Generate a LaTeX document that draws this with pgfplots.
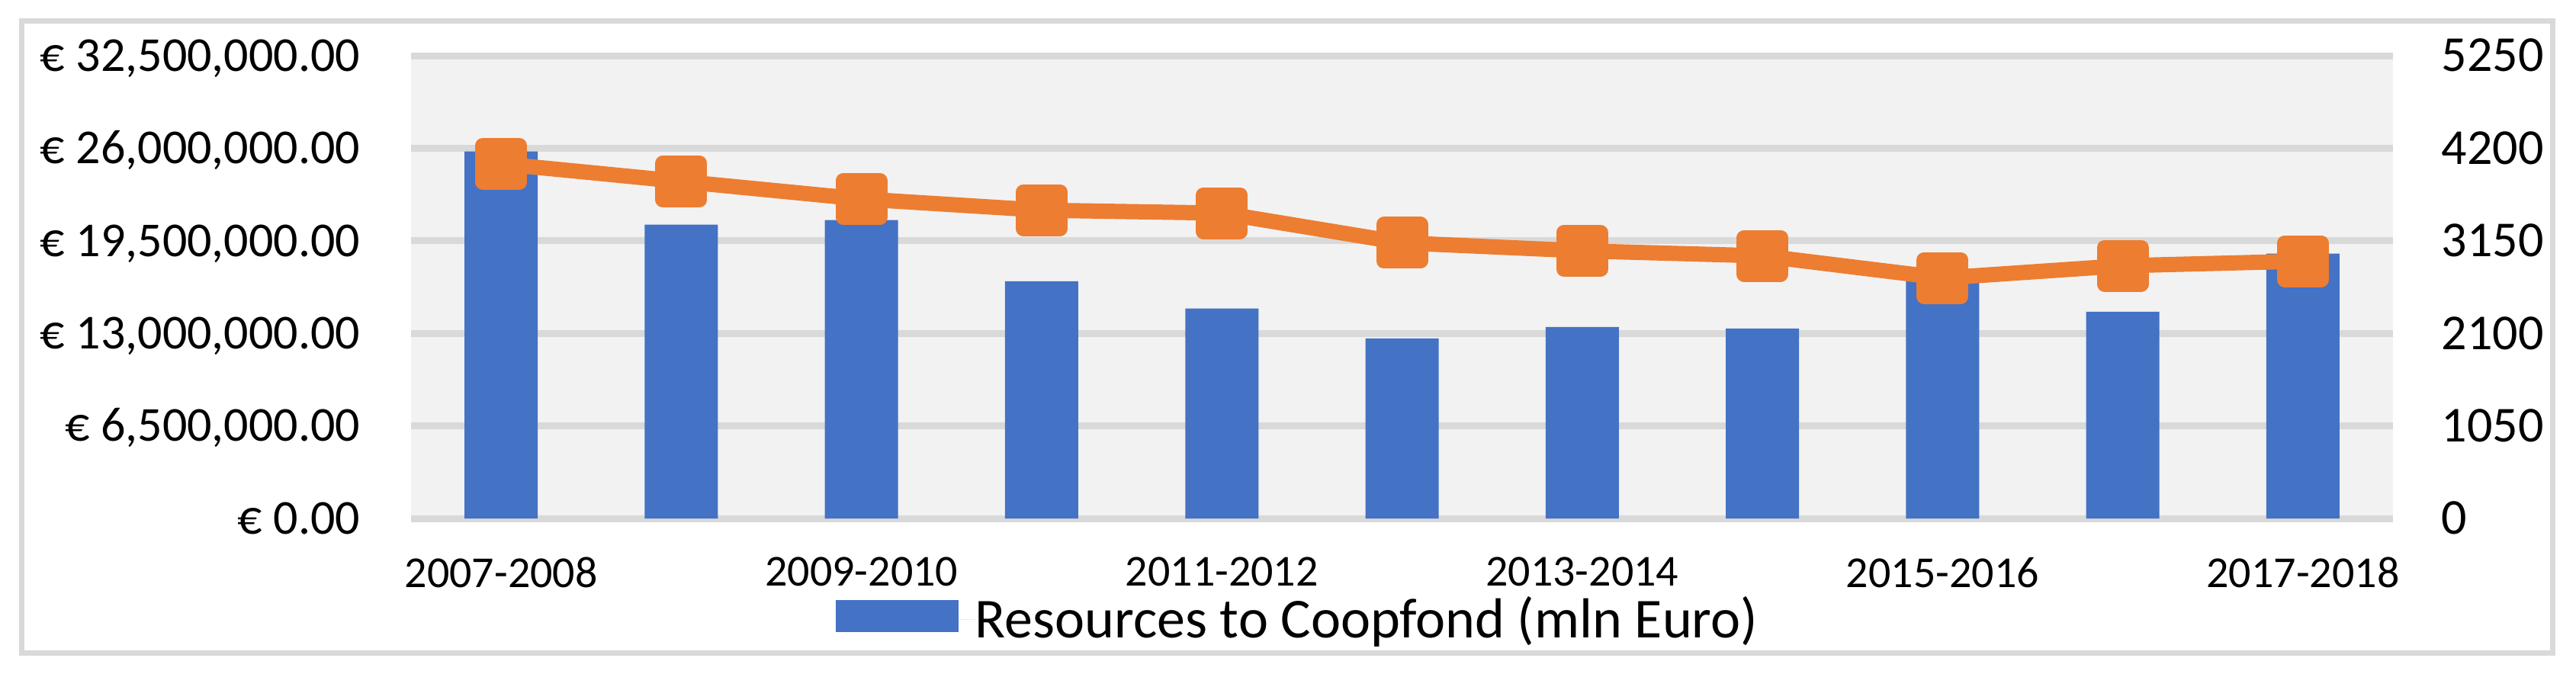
\documentclass[border=0pt]{standalone}
\usepackage{pgfplots}
\pgfplotsset{compat=1.18}
\usepackage{fontspec}
\setmainfont{Carlito}
\definecolor{barblue}{HTML}{4472C4}
\definecolor{lineorange}{HTML}{ED7D31}
\definecolor{gridgray}{HTML}{D9D9D9}
\definecolor{plotbg}{HTML}{F2F2F2}

\begin{document}
\begin{tikzpicture}
\path (0,0) rectangle (844.5pt,220.75pt);
\draw[gridgray, line width=1.75pt] (7pt,6.75pt) rectangle (836.75pt,214pt);
\begin{axis}[
  at={(134.75pt,50.75pt)}, anchor=south west,
  width=649.75pt, height=151.75pt, scale only axis,
  xmin=-0.5, xmax=10.5, ymin=0, ymax=32.5,
  axis line style={draw=none},
  axis background/.style={fill=plotbg},
  ymajorgrids, grid style={gridgray, line width=2.25pt},
  major tick length=0pt,
  ytick={0,6.5,13,19.5,26,32.5},
  yticklabels={{€ 0.00},{€ 6,500,000.00},{€ 13,000,000.00},{€ 19,500,000.00},{€ 26,000,000.00},{€ 32,500,000.00}},
  xtick={0,2,4,6,8,10},
  xticklabels={2007-2008,2009-2010,2011-2012,2013-2014,2015-2016,2017-2018},
  yticklabel style={font=\fontsize{16}{16}\selectfont, anchor=base east, inner sep=0pt, xshift=-16.5pt, yshift=-5.05pt},
  xticklabel style={font=\fontsize{14.5}{14.5}\selectfont, anchor=north, inner sep=0pt, yshift=-12.6pt},
  legend style={at={(0.2143,-0.2175)}, anchor=west, draw=none, fill=none, inner sep=0pt, outer sep=0pt,
    font=\fontsize{18.5}{18.5}\selectfont, nodes={inner sep=0pt}},
  legend cell align=left,
]
\addplot[ybar, bar width=24pt, fill=barblue, draw=none,
  legend image code/.code={\fill[barblue] (0pt,-4.25pt) rectangle (40.25pt,6.25pt); \path (0pt,0pt) -- (45.75pt,0pt);}]
  coordinates {(0,25.77) (1,20.63) (2,20.95) (3,16.66) (4,14.74) (5,12.65) (6,13.45) (7,13.34) (8,16.9) (9,14.52) (10,18.60)};
\addlegendentry{Resources to Coopfond (mln Euro)}
\end{axis}
\begin{axis}[
  at={(134.75pt,50.75pt)}, anchor=south west,
  width=649.75pt, height=151.75pt, scale only axis,
  xmin=-0.5, xmax=10.5, ymin=0, ymax=5250,
  axis line style={draw=none},
  major tick length=0pt,
  xtick=\empty,
  ytick={0,1050,2100,3150,4200,5250},
  yticklabels={0,1050,2100,3150,4200,5250},
  yticklabel pos=right,
  yticklabel style={font=\fontsize{16.5}{16.5}\selectfont, anchor=base west, inner sep=0pt, xshift=15.75pt, yshift=-5.2pt},
  clip=false,
]
\addplot[lineorange, line width=5pt, line join=round, mark=square*, mark size=6pt,
  mark options={solid, fill=lineorange, draw=none}]
  coordinates {(0,4023) (1,3823) (2,3624) (3,3497) (4,3464) (5,3127) (6,3036) (7,2979) (8,2728) (9,2867) (10,2919)};
\end{axis}
\end{tikzpicture}
\end{document}
